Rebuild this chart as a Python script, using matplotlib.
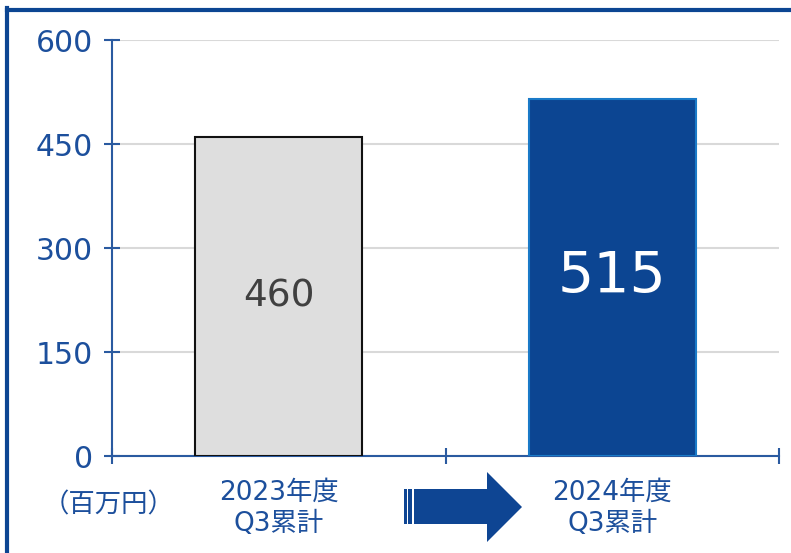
import matplotlib.pyplot as plt
from matplotlib.patches import Polygon, Rectangle
from matplotlib.lines import Line2D

# wide digits from DejaVu, kanji from Noto CJK
plt.rcParams['font.family'] = ['DejaVu Sans', 'Noto Sans CJK JP']

# data
categories = ["2023年度\nQ3累計", "2024年度\nQ3累計"]
values = [460, 515]
yticks = [0, 150, 300, 450, 600]
unit_label = "（百万円）"

bar_colors = ["#dedede", "#0c4592"]
edge_colors = ["#111111", "#1a7ac8"]
label_colors = ["#404040", "white"]
label_sizes = [27, 41]

blue = "#1c4f9c"
axis_blue = "#2a5aa0"

W, H = 791, 553
fig = plt.figure(figsize=(W / 100, H / 100), dpi=100)
ax = fig.add_axes([112 / W, 97 / H, 667 / W, 416 / H])

x = list(range(len(categories)))
bars = ax.bar(x, values, width=0.5, color=bar_colors, edgecolor=edge_colors,
              linewidth=1.5, zorder=3)
for b, v, c, s in zip(bars, values, label_colors, label_sizes):
    ax.text(b.get_x() + b.get_width() / 2, v / 2, str(v), ha="center",
            va="center", color=c, fontsize=s, zorder=4)

ax.set_xlim(-0.5, len(categories) - 0.5)
ax.set_ylim(0, 600)
ax.set_yticks(yticks)
ax.yaxis.grid(True, color="#d9d9d9", linewidth=1.5, zorder=0)
ax.set_axisbelow(True)

ax.set_xticks(x)
ax.set_xticklabels(categories, linespacing=1.25)
ax.set_xticks([i - 0.5 for i in range(len(categories) + 1)], minor=True)
ax.tick_params(axis="x", which="major", length=0, pad=17, labelsize=19,
               labelcolor=blue)
ax.tick_params(axis="x", which="minor", direction="inout", length=11,
               width=1.5, color=axis_blue)
ax.tick_params(axis="y", direction="inout", length=11, width=1.5,
               color=axis_blue, labelcolor=blue, labelsize=21.5, pad=8)

for side in ["top", "right"]:
    ax.spines[side].set_visible(False)
for side in ["left", "bottom"]:
    ax.spines[side].set_color(axis_blue)
    ax.spines[side].set_linewidth(1.5)

fig.text(109 / W, 1 - 505 / H, unit_label, ha="center", va="center",
         color=blue, fontsize=19, family="Noto Sans CJK JP")

# arrow between the two labels
arrow_col = "#0e4593"
def px(xp, yp):
    return (xp / W, 1 - yp / H)
arrow = Polygon([px(414, 489), px(487, 489), px(487, 472), px(522, 507),
                 px(487, 542), px(487, 524), px(414, 524)],
                closed=True, transform=fig.transFigure, color=arrow_col,
                linewidth=0)
fig.patches.append(arrow)
for x0, w in [(404, 2.7), (408.3, 4)]:
    fig.patches.append(Rectangle(px(x0, 524), w / W, 35 / H,
                                 transform=fig.transFigure, color=arrow_col,
                                 linewidth=0))

# frame border (top and left)
fig.lines.append(Line2D([7 / W, 1], [1 - 9.5 / H, 1 - 9.5 / H],
                        transform=fig.transFigure, color="#0c4592", linewidth=3))
fig.lines.append(Line2D([7 / W, 7 / W], [0, 1 - 8 / H],
                        transform=fig.transFigure, color="#0c4592", linewidth=3))

fig.savefig("out.png", dpi=100)
